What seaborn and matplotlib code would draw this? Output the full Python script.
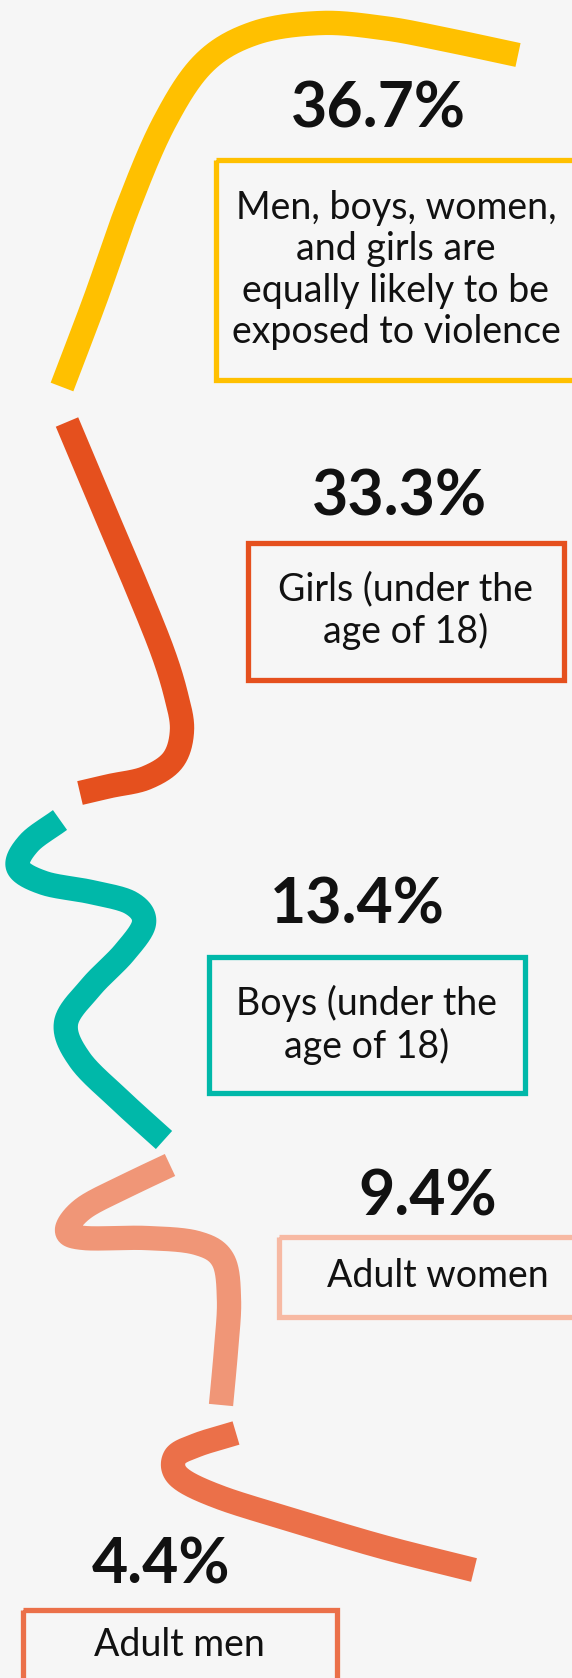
import matplotlib
matplotlib.use("Agg")
import matplotlib.pyplot as plt
import numpy as np
import pandas as pd
import seaborn as sns
from matplotlib.patches import Rectangle

sns.set_style("white")
plt.rcParams["font.family"] = ["Lato", "DejaVu Sans"]

# data
shares = [36.7, 33.3, 13.4, 9.4, 4.4]
groups = [
    "Men, boys, women,\nand girls are\nequally likely to be\nexposed to violence",
    "Girls (under the\nage of 18)",
    "Boys (under the\nage of 18)",
    "Adult women",
    "Adult men",
]
line_colors = ["#FFC000", "#E5501E", "#00B8A9", "#F09677", "#EB7049"]
box_colors = ["#FFC000", "#E5501E", "#00B8A9", "#F7B9A3", "#EB7049"]

# squiggle shapes (pixel space, decoration only)
paths = [
    [(62, 387), (95, 300), (128, 207), (164, 123), (204, 63), (255, 33),
     (321, 23), (383, 28), (438, 38), (518, 55)],
    [(67, 422), (101, 503), (135, 583), (162, 650), (176, 695), (182, 730),
     (173, 760), (146, 778), (110, 786), (80, 793)],
    [(60, 820), (29, 843), (18, 867), (44, 883), (91, 892), (131, 903),
     (144, 923), (124, 953), (91, 987), (66, 1023), (80, 1060), (120, 1100),
     (164, 1140)],
    [(170, 1165), (128, 1185), (84, 1208), (67, 1230), (84, 1238), (146, 1238),
     (197, 1243), (223, 1260), (229, 1300), (226, 1350), (221, 1405)],
    [(236, 1433), (197, 1445), (175, 1457), (179, 1477), (219, 1497),
     (292, 1520), (383, 1547), (474, 1570)],
]

# label layout: (pct x, pct y, box left, top, right, bottom, text x, text y)
layout = [
    (378, 109, 216, 160, 590, 380, 396, 270),
    (399, 497, 248, 543, 564, 680, 406, 611),
    (357, 906, 209, 957, 525, 1093, 367, 1025),
    (428, 1197, 279, 1237, 590, 1317, 438, 1276),
    (161, 1566, 23, 1610, 337, 1700, 179, 1645),
]


def smooth(points, n=40):
    pts = np.array(points, dtype=float)
    pts = np.vstack([2 * pts[0] - pts[1], pts, 2 * pts[-1] - pts[-2]])
    out = []
    t = np.linspace(0, 1, n, endpoint=False)[:, None]
    for i in range(1, len(pts) - 2):
        p0, p1, p2, p3 = pts[i - 1:i + 3]
        out.append(0.5 * (2 * p1 + (-p0 + p2) * t
                          + (2 * p0 - 5 * p1 + 4 * p2 - p3) * t ** 2
                          + (-p0 + 3 * p1 - 3 * p2 + p3) * t ** 3))
    out.append(pts[-2][None])
    return np.vstack(out)


W, H = 572, 1678
fig = plt.figure(figsize=(W / 100, H / 100), dpi=100, facecolor="#F6F6F6")
ax = fig.add_axes([0, 0, 1, 1])
ax.set_facecolor("#F6F6F6")
ax.set_xlim(0, W)
ax.set_ylim(H, 0)
ax.axis("off")

for i, pct in enumerate(shares):
    curve = smooth(paths[i])
    seg = pd.DataFrame({"x": curve[:, 0], "y": curve[:, 1]})
    sns.lineplot(data=seg, x="x", y="y", sort=False, estimator=None,
                 color=line_colors[i], linewidth=17.5, ax=ax,
                 solid_capstyle="butt", solid_joinstyle="round")

    px, py, bl, bt, br, bb, tx, ty = layout[i]
    ax.text(px, py, f"{pct}%", ha="center", va="center", fontsize=45,
            fontweight="bold", color="#111111")
    ax.add_patch(Rectangle((bl, bt), br - bl, bb - bt, fill=False,
                           edgecolor=box_colors[i], linewidth=3.8))
    ax.text(tx, ty, groups[i], ha="center", va="center", fontsize=27,
            color="#111111", linespacing=1.18)

ax.set_xlabel("")
ax.set_ylabel("")
fig.savefig("out.png", dpi=100, facecolor="#F6F6F6")
